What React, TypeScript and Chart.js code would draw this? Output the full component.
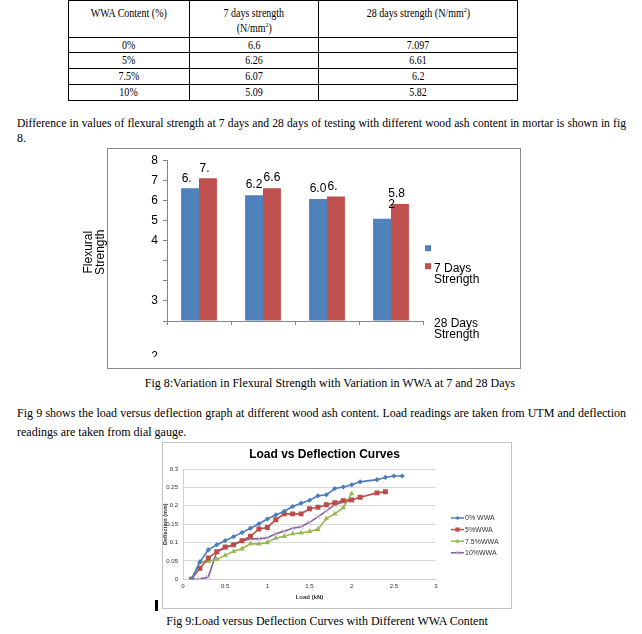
import React, { useEffect, useRef } from "react";
import { Chart, registerables } from "chart.js";

Chart.register(...registerables);

// ---------------- data: table & Fig 8 ----------------
const wwaContent = ["0%", "5%", "7.5%", "10%"];
const strength7 = [6.6, 6.26, 6.07, 5.09];
const strength28 = [7.097, 6.61, 6.2, 5.82];
const tableHeader7 = "7 days strength";
const tableHeader28 = "28 days strength (N/mm";
const flexTickLabels = ["", "3", "", "", "4", "5", "6", "7", "8"];
const barLabels7 = ["6.", "6.2", "6.0", ""];
const barLabels28 = ["7.", "6.6", "6.", "5.8\n2"];
const barLabelAnchor7 = ["6.6", "6.2", "6.0", ""];
const barLabelAnchor28 = ["7.0", "6.6", "6.2", "5.82"];
const fig8LegendText = ["7 Days\nStrength", "28 Days\nStrength"];
const fig8AxisTitle = ["Flexural", "Strength"];

// ---------------- data: Fig 9 ----------------
const load0 = [0.1, 0.2, 0.3, 0.4, 0.5, 0.6, 0.7, 0.8, 0.9, 1.0, 1.1, 1.2, 1.3, 1.4, 1.5, 1.6, 1.7, 1.8, 1.9, 2.0, 2.1, 2.3, 2.4, 2.5, 2.6];
const defl0 = [0, 0.047, 0.08, 0.094, 0.105, 0.116, 0.127, 0.139, 0.151, 0.164, 0.175, 0.185, 0.198, 0.207, 0.215, 0.227, 0.23, 0.247, 0.251, 0.257, 0.265, 0.271, 0.277, 0.281, 0.281];
const load5 = [0.1, 0.2, 0.3, 0.4, 0.5, 0.6, 0.7, 0.8, 0.9, 1.0, 1.1, 1.2, 1.3, 1.4, 1.5, 1.6, 1.7, 1.8, 1.9, 2.0, 2.1, 2.3, 2.4];
const defl5 = [0, 0.03, 0.058, 0.075, 0.088, 0.094, 0.105, 0.117, 0.137, 0.141, 0.162, 0.178, 0.178, 0.178, 0.192, 0.196, 0.203, 0.208, 0.214, 0.216, 0.223, 0.235, 0.238];
const load75 = [0.1, 0.2, 0.3, 0.4, 0.5, 0.6, 0.7, 0.8, 0.9, 1.0, 1.1, 1.2, 1.3, 1.4, 1.5, 1.6, 1.7, 1.8, 1.9, 2.0];
const defl75 = [0, 0.047, 0.049, 0.054, 0.065, 0.076, 0.083, 0.097, 0.096, 0.1, 0.112, 0.117, 0.124, 0.126, 0.13, 0.136, 0.165, 0.178, 0.195, 0.233];
const load10 = [0.1, 0.2, 0.3, 0.4, 0.5, 0.6, 0.7, 0.8, 0.9, 1.0, 1.1, 1.2, 1.3, 1.4, 1.5, 1.6, 1.7, 1.8, 1.9, 2.0];
const defl10 = [0, 0.001, 0.006, 0.075, 0.085, 0.094, 0.105, 0.11, 0.11, 0.113, 0.124, 0.131, 0.139, 0.143, 0.155, 0.17, 0.186, 0.203, 0.21, 0.214];
const seriesNames = ["0% WWA", "5%WWA", "7.5%WWA", "10%WWA"];
const fig9Title = "Load vs Deflection Curves";
const fig9XTitle = "Load (kN)";
const fig9YTitle = "Deflection (mm)";

// ---------------- styles ----------------
const SANS = '"Liberation Sans", Arial, sans-serif';
const SERIF = '"Liberation Serif", "Times New Roman", serif';
const BLUE = "#4F81BD";
const RED = "#C0504D";
const LABEL_LIFT = 10;
const S9 = [
  { color: "#4A7EBB", point: "rectRot", r: 2.6, pc: "#4A7EBB" },
  { color: "#BE4B48", point: "rect", r: 3.5, pc: "#BE4B48" },
  { color: "#98B954", point: "triangle", r: 3.2, pc: "#98B954" },
  { color: "#7D60A0", point: "crossRot", r: 3, pc: "#C9A3CF" },
];

const fmt = (v: any) => String(Number(Number(v).toFixed(3)));

function drawMarker(ctx: CanvasRenderingContext2D, style: string, x: number, y: number, r: number, color: string) {
  ctx.save();
  ctx.fillStyle = color;
  ctx.strokeStyle = color;
  ctx.beginPath();
  if (style === "rectRot") {
    ctx.moveTo(x, y - r); ctx.lineTo(x + r, y); ctx.lineTo(x, y + r); ctx.lineTo(x - r, y); ctx.closePath(); ctx.fill();
  } else if (style === "rect") {
    ctx.fillRect(x - r * 0.75, y - r * 0.75, r * 1.5, r * 1.5);
  } else if (style === "triangle") {
    ctx.moveTo(x, y - r); ctx.lineTo(x + r * 0.9, y + r * 0.6); ctx.lineTo(x - r * 0.9, y + r * 0.6); ctx.closePath(); ctx.fill();
  } else {
    ctx.lineWidth = 1;
    ctx.moveTo(x - r * 0.7, y - r * 0.7); ctx.lineTo(x + r * 0.7, y + r * 0.7);
    ctx.moveTo(x + r * 0.7, y - r * 0.7); ctx.lineTo(x - r * 0.7, y + r * 0.7); ctx.stroke();
  }
  ctx.restore();
}

function Fig8() {
  const ref = useRef<HTMLCanvasElement>(null);
  useEffect(() => {
    const extras = {
      id: "fig8extras",
      afterDraw(chart: any) {
        const { ctx, chartArea } = chart;
        ctx.save();
        ctx.fillStyle = "#000";
        ctx.font = `12px ${SANS}`;
        ctx.textBaseline = "middle";
        ctx.textAlign = "left";
        const sets: [string[], string[]][] = [[barLabels7, barLabelAnchor7], [barLabels28, barLabelAnchor28]];
        sets.forEach(([shown, anchor], di) => {
          chart.getDatasetMeta(di).data.forEach((bar: any, i: number) => {
            if (!shown[i]) return;
            const left = bar.x - ctx.measureText(anchor[i]).width / 2;
            shown[i].split("\n").forEach((line, k) => ctx.fillText(line, left, bar.y - LABEL_LIFT + k * 11));
          });
        });
        // legend (as broken in the original)
        const lx = chartArea.right + 2;
        ctx.fillStyle = BLUE;
        ctx.fillRect(lx, chartArea.top + 85, 6, 6);
        ctx.fillStyle = RED;
        ctx.fillRect(lx, chartArea.top + 103, 6, 6);
        ctx.fillStyle = "#000";
        fig8LegendText[0].split("\n").forEach((l, k) => ctx.fillText(l, lx + 9, chartArea.top + 108 + k * 11));
        fig8LegendText[1].split("\n").forEach((l, k) => ctx.fillText(l, lx + 9, chartArea.bottom + 3 + k * 11));
        // y title
        ctx.textAlign = "center";
        fig8AxisTitle.forEach((l, k) => {
          ctx.save();
          ctx.translate(9 + k * 12, chartArea.top + 92);
          ctx.rotate(-Math.PI / 2);
          ctx.fillText(l, 0, 0);
          ctx.restore();
        });
        // partially hidden "2" label under the axis
        ctx.save();
        ctx.beginPath();
        ctx.rect(0, 0, chartArea.left, chartArea.bottom + 36);
        ctx.clip();
        ctx.textAlign = "right";
        ctx.textBaseline = "top";
        ctx.fillText("2", chartArea.left - 9, chartArea.bottom + 30);
        ctx.restore();
        ctx.restore();
      },
    };
    const chart = new Chart(ref.current as HTMLCanvasElement, {
      type: "bar",
      data: {
        labels: wwaContent,
        datasets: [
          { label: "7 Days Strength", data: strength7, backgroundColor: BLUE, categoryPercentage: 0.56, barPercentage: 1 },
          { label: "28 Days Strength", data: strength28, backgroundColor: RED, categoryPercentage: 0.56, barPercentage: 1 },
        ],
      },
      options: {
        animation: false,
        responsive: false,
        layout: { padding: { left: 0, top: 12, right: 97, bottom: 43 } },
        plugins: { legend: { display: false }, tooltip: { enabled: false }, title: { display: false } },
        scales: {
          x: {
            ticks: { display: false },
            grid: { drawOnChartArea: false, drawTicks: true, tickLength: 4, color: "#868686" },
            border: { color: "#868686" },
            afterFit: (s: any) => { s.height = 4; },
          },
          y: {
            min: 0,
            max: 8,
            ticks: {
              stepSize: 1,
              padding: 5,
              color: "#000",
              font: { family: SANS, size: 12 },
              callback: (v: any) => flexTickLabels[Math.round(Number(v))] ?? "",
            },
            grid: { drawOnChartArea: false, drawTicks: true, tickLength: 4, color: "#868686" },
            border: { color: "#868686" },
            afterFit: (s: any) => { s.width = 87; },
          },
        },
      },
      plugins: [extras],
    } as any);
    return () => chart.destroy();
  }, []);
  return (
    <>
      <div style={{ position: "absolute", left: 107, top: 148, width: 414, height: 221, border: "1px solid #8a8a8a", boxSizing: "border-box" }} />
      <canvas ref={ref} width={440} height={220} style={{ position: "absolute", left: 80, top: 148, width: 440, height: 220 }} />
    </>
  );
}

function Fig9() {
  const ref = useRef<HTMLCanvasElement>(null);
  useEffect(() => {
    const extras = {
      id: "fig9extras",
      afterDraw(chart: any) {
        const { ctx, chartArea } = chart;
        ctx.save();
        ctx.fillStyle = "#000";
        ctx.font = `bold 12px ${SANS}`;
        ctx.textAlign = "center";
        ctx.textBaseline = "middle";
        ctx.fillText(fig9Title, 162.5, 12.5);
        ctx.font = `7px ${SANS}`;
        ctx.textAlign = "left";
        seriesNames.forEach((name, i) => {
          const y = chartArea.top + 49 + i * 11.6;
          const x0 = chartArea.right + 15;
          ctx.strokeStyle = S9[i].color;
          ctx.lineWidth = 1.5;
          ctx.beginPath();
          ctx.moveTo(x0, y);
          ctx.lineTo(x0 + 13, y);
          ctx.stroke();
          drawMarker(ctx, S9[i].point, x0 + 6.5, y, S9[i].r * 0.8, S9[i].pc);
          ctx.fillStyle = "#333";
          ctx.fillText(name, x0 + 14, y + 0.5);
        });
        ctx.restore();
      },
    };
    const pairs = [
      [load0, defl0],
      [load5, defl5],
      [load75, defl75],
      [load10, defl10],
    ];
    const chart = new Chart(ref.current as HTMLCanvasElement, {
      type: "line",
      data: {
        datasets: pairs.map(([xs, ys], i) => ({
          label: seriesNames[i],
          data: xs.map((x, k) => ({ x, y: ys[k] })),
          borderColor: S9[i].color,
          backgroundColor: S9[i].pc,
          pointBackgroundColor: S9[i].pc,
          pointBorderColor: S9[i].pc,
          pointStyle: S9[i].point,
          pointRadius: S9[i].r,
          pointBorderWidth: i === 3 ? 1 : 0,
          borderWidth: 1.6,
          tension: 0,
          fill: false,
        })),
      },
      options: {
        animation: false,
        responsive: false,
        layout: { padding: { left: 0, top: 27, right: 75, bottom: 0 } },
        plugins: { legend: { display: false }, tooltip: { enabled: false }, title: { display: false } },
        scales: {
          x: {
            type: "linear",
            min: 0,
            max: 3,
            ticks: { stepSize: 0.5, padding: 3, color: "#333", font: { family: SANS, size: 6 }, callback: fmt },
            grid: { display: false, drawTicks: false },
            border: { color: "#d0d0d0" },
            title: { display: true, text: fig9XTitle, color: "#333", font: { family: SANS, size: 6, weight: "bold" }, padding: { top: 0, bottom: 7 } },
            afterFit: (s: any) => { s.height = 28.7; },
          },
          y: {
            min: 0,
            max: 0.3,
            ticks: { stepSize: 0.05, padding: 5, color: "#333", font: { family: SANS, size: 6 }, callback: fmt },
            grid: { color: "#d9d9d9", drawTicks: false },
            border: { color: "#d0d0d0" },
            title: { display: true, text: fig9YTitle, color: "#333", font: { family: SANS, size: 5.5, weight: "bold" }, padding: { top: 0, bottom: 0 } },
            afterFit: (s: any) => { s.width = 21; },
          },
        },
      },
      plugins: [extras],
    } as any);
    return () => chart.destroy();
  }, []);
  return (
    <>
      <div style={{ position: "absolute", left: 162, top: 442, width: 350, height: 167, border: "1px solid #c4c4c4", boxSizing: "border-box" }} />
      <canvas ref={ref} width={349} height={166} style={{ position: "absolute", left: 162, top: 442, width: 349, height: 166 }} />
      <div style={{ position: "absolute", left: 155, top: 600, width: 3, height: 11, background: "#000" }} />
    </>
  );
}

const colX = [68, 189, 318, 517];
const rowY = [0, 37, 52, 68, 84, 100];

function Table() {
  const cells: React.ReactNode[] = [];
  const cellStyle = (c: number, r: number): React.CSSProperties => ({
    position: "absolute",
    left: colX[c],
    top: rowY[r],
    width: colX[c + 1] - colX[c] + 1,
    height: rowY[r + 1] - rowY[r] + 1,
    border: "1px solid #000",
    boxSizing: "border-box",
    textAlign: "center",
  });
  const narrow: React.CSSProperties = { display: "inline-block", transform: "scaleX(0.87)", transformOrigin: "center", whiteSpace: "nowrap" };
  const header = [
    <span style={narrow}>WWA Content (%)</span>,
    <><span style={narrow}>{tableHeader7}</span><br /><span style={narrow}>(N/mm<sup style={{ fontSize: 7, lineHeight: 0 }}>2</sup>)</span></>,
    <span style={narrow}>{tableHeader28}<sup style={{ fontSize: 7, lineHeight: 0 }}>2</sup>)</span>,
  ];
  header.forEach((h, c) =>
    cells.push(
      <div key={"h" + c} style={{ ...cellStyle(c, 0), lineHeight: "15px", paddingTop: 5 }}>{h}</div>
    )
  );
  wwaContent.forEach((w, r) => {
    const vals = [w, String(strength7[r]), String(strength28[r])];
    vals.forEach((v, c) =>
      cells.push(
        <div key={`c${r}-${c}`} style={{ ...cellStyle(c, r + 1), lineHeight: `${rowY[r + 2] - rowY[r + 1] - 1}px` }}>
          <span style={narrow}>{v}</span>
        </div>
      )
    );
  });
  return <div style={{ fontSize: 11.5 }}>{cells}</div>;
}

export default function App() {
  useEffect(() => {
    document.body.style.margin = "0";
  }, []);
  const just: React.CSSProperties = { position: "absolute", left: 17, width: 609, textAlign: "justify", textAlignLast: "justify", whiteSpace: "nowrap", lineHeight: "14px" };
  return (
    <div style={{ position: "fixed", left: 0, top: 0, width: 642, height: 634, background: "#fff", fontFamily: SERIF, fontSize: 12, color: "#000", overflow: "hidden" }}>
      <Table />
      <div style={{ ...just, top: 117, fontSize: 11.6 }}>
        Difference in values of flexural strength at 7 days and 28 days of testing with different wood ash content in mortar is shown in fig
      </div>
      <div style={{ position: "absolute", left: 17, top: 131, lineHeight: "14px" }}>8.</div>
      <Fig8 />
      <div style={{ position: "absolute", left: 330, top: 376, transform: "translateX(-50%)", whiteSpace: "nowrap", lineHeight: "14px" }}>
        Fig 8:Variation in Flexural Strength with Variation in WWA at 7 and 28 Days
      </div>
      <div style={{ ...just, top: 406 }}>
        Fig 9 shows the load versus deflection graph at different wood ash content. Load readings are taken from UTM and deflection
      </div>
      <div style={{ position: "absolute", left: 17, top: 425, lineHeight: "14px" }}>readings are taken from dial gauge.</div>
      <Fig9 />
      <div style={{ position: "absolute", left: 327, top: 614, transform: "translateX(-50%)", whiteSpace: "nowrap", lineHeight: "14px" }}>
        Fig 9:Load versus Deflection Curves with Different WWA Content
      </div>
    </div>
  );
}
